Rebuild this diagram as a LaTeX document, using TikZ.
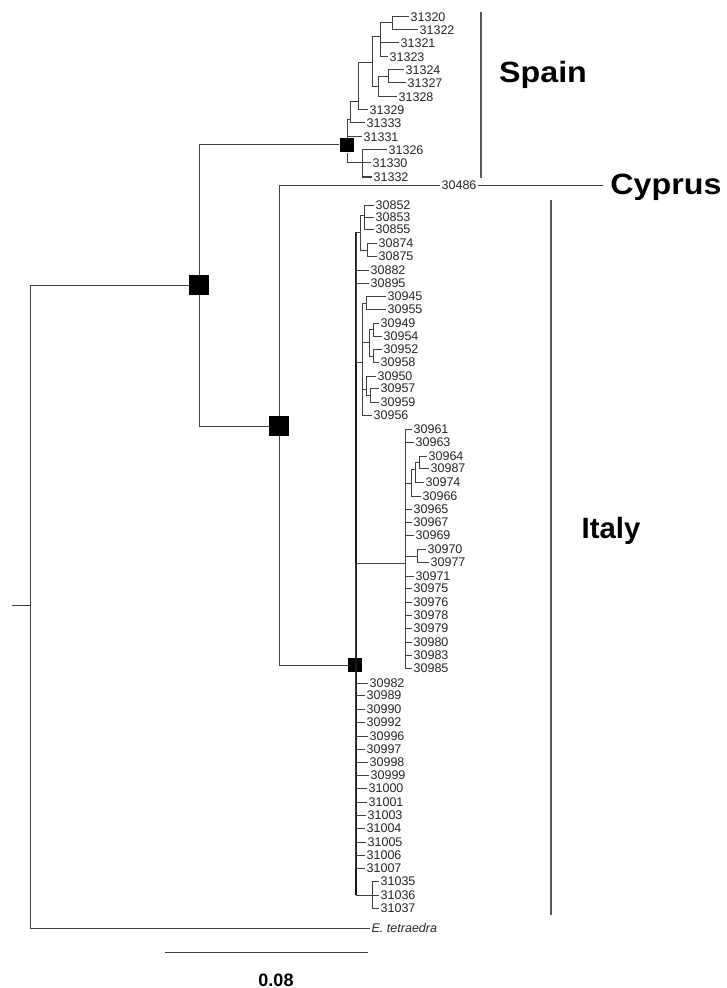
\documentclass[tikz,border=0pt]{standalone}
\usepackage{fontspec}
\setmainfont{Liberation Sans}
\begin{document}
\begin{tikzpicture}[x=0.75pt,y=-0.75pt,
  br/.style={draw=black!75,line width=0.75pt},
  trunk/.style={draw=black!90,line width=1.5pt},
  tip/.style={anchor=west,inner xsep=1pt,inner ysep=0pt,text=black!85,font=\fontsize{9.4}{11}\selectfont},
  bigsq/.style={fill=black,draw=none,minimum size=15pt,inner sep=0pt},
  smsq/.style={fill=black,draw=none,minimum size=10.5pt,inner sep=0pt},
  region/.style={font=\fontsize{22}{26}\selectfont\bfseries,text=black,inner sep=0pt},
  groupbar/.style={draw=black!65,line width=1.1pt}]

\fill[white] (0,0) rectangle (727,988);
\useasboundingbox (0,0) rectangle (727,988);

% ---- root and outgroup ----
\coordinate (rootstub) at (12,605);
\coordinate (root) at (30,605);
\draw[br] (rootstub) -- (root);
\node[tip,font=\fontsize{9.4}{11}\selectfont\itshape] (Etet) at (370,928) {E. tetraedra};
\draw[br] (root) |- (Etet);

% ---- backbone nodes ----
\node[bigsq] (A) at (199,285) {};
\node[smsq,minimum size=11pt] (S0) at (347,145) {};
\node[bigsq] (B) at (279,426) {};
\node[smsq] (C) at (355,665) {};
\draw[br] (root) |- (A);
\draw[br] (A) |- (S0);
\draw[br] (A) |- (B);
\draw[br] (B) |- (C);

% ---- Cyprus ----
\node[tip] (t30486) at (440,185) {30486};
\node[region,anchor=west,xscale=1.1,transform shape] (cyprus) at (610,187) {Cyprus};
\coordinate (cyL) at (603,185);
\draw[br] (B) |- (t30486);
\draw[br] (t30486) -- (cyL);

% ---- Spain clade ----
\coordinate (S2) at (350,120);
\coordinate (S3) at (358,102);
\coordinate (S4) at (372,63);
\coordinate (S5) at (362,163);
\coordinate (S6) at (380,37);
\coordinate (S7) at (378,87);
\coordinate (S8) at (392,23);
\coordinate (S9) at (388,77);
\node[tip] (t31320) at (409,17) {31320};
\node[tip] (t31322) at (418,30) {31322};
\node[tip] (t31321) at (399,43) {31321};
\node[tip] (t31323) at (388,57) {31323};
\node[tip] (t31324) at (404,70) {31324};
\node[tip] (t31327) at (406,83) {31327};
\node[tip] (t31328) at (397,97) {31328};
\node[tip] (t31329) at (368,110) {31329};
\node[tip] (t31333) at (365,123) {31333};
\node[tip] (t31331) at (362,137) {31331};
\node[tip] (t31326) at (387,150) {31326};
\node[tip] (t31330) at (371,163) {31330};
\node[tip] (t31332) at (372,177) {31332};
\draw[br] (S0) |- (S2);
\draw[br] (S0) |- (t31331);
\draw[br] (S0) |- (S5);
\draw[br] (S2) |- (S3);
\draw[br] (S2) |- (t31333);
\draw[br] (S3) |- (S4);
\draw[br] (S3) |- (t31329);
\draw[br] (S4) |- (S6);
\draw[br] (S4) |- (S7);
\draw[br] (S6) |- (S8);
\draw[br] (S6) |- (t31321);
\draw[br] (S6) |- (t31323);
\draw[br] (S8) |- (t31320);
\draw[br] (S8) |- (t31322);
\draw[br] (S7) |- (S9);
\draw[br] (S7) |- (t31328);
\draw[br] (S9) |- (t31324);
\draw[br] (S9) |- (t31327);
\draw[br] (S5) |- (t31326);
\draw[br] (S5) |- (t31330);
\draw[br] (S5) |- (t31332);

% ---- Italy clade: trunk ----
\coordinate (itop) at (356,232);
\coordinate (ibot) at (356,895);
\draw[trunk] (itop) -- (ibot);

% upper groups
\coordinate (T1) at (360,232);
\coordinate (T2) at (364,215);
\coordinate (T3) at (367,250);
\node[tip] (t30852) at (374,205) {30852};
\node[tip] (t30853) at (374,217) {30853};
\node[tip] (t30855) at (374,229) {30855};
\node[tip] (t30874) at (377,243) {30874};
\node[tip] (t30875) at (377,256) {30875};
\node[tip] (t30882) at (369,270) {30882};
\node[tip] (t30895) at (369,283) {30895};
\draw[br] (itop) -- (T1);
\draw[br] (T1) |- (T2);
\draw[br] (T1) |- (T3);
\draw[br] (T2) |- (t30852);
\draw[br] (T2) |- (t30853);
\draw[br] (T2) |- (t30855);
\draw[br] (T3) |- (t30874);
\draw[br] (T3) |- (t30875);
\draw[br] (itop) |- (t30882);
\draw[br] (itop) |- (t30895);

\coordinate (Q1) at (362,362);
\coordinate (Q2) at (366,303);
\coordinate (Q3) at (369,342);
\coordinate (Q4) at (366,389);
\coordinate (Q5) at (373,329);
\coordinate (Q6) at (373,356);
\coordinate (Q7) at (370,395);
\node[tip] (t30945) at (386,296) {30945};
\node[tip] (t30955) at (386,309) {30955};
\node[tip] (t30949) at (379,323) {30949};
\node[tip] (t30954) at (382,336) {30954};
\node[tip] (t30952) at (382,349) {30952};
\node[tip] (t30958) at (379,362) {30958};
\node[tip] (t30950) at (376,376) {30950};
\node[tip] (t30957) at (379,388) {30957};
\node[tip] (t30959) at (379,402) {30959};
\node[tip] (t30956) at (372,415) {30956};
\draw[br] (itop) |- (Q1);
\draw[br] (Q1) |- (Q2);
\draw[br] (Q1) |- (Q3);
\draw[br] (Q1) |- (Q4);
\draw[br] (Q1) |- (t30956);
\draw[br] (Q2) |- (t30945);
\draw[br] (Q2) |- (t30955);
\draw[br] (Q3) |- (Q5);
\draw[br] (Q3) |- (Q6);
\draw[br] (Q5) |- (t30949);
\draw[br] (Q5) |- (t30954);
\draw[br] (Q6) |- (t30952);
\draw[br] (Q6) |- (t30958);
\draw[br] (Q4) |- (t30950);
\draw[br] (Q4) |- (Q7);
\draw[br] (Q7) |- (t30957);
\draw[br] (Q7) |- (t30959);

% middle group
\coordinate (D) at (405,563);
\coordinate (I1) at (411,483);
\coordinate (I2) at (415,469);
\coordinate (I3) at (419,462);
\coordinate (J) at (417,556);
\node[tip] (t30961) at (412,429) {30961};
\node[tip] (t30963) at (414,442) {30963};
\node[tip] (t30964) at (427,456) {30964};
\node[tip] (t30987) at (429,468) {30987};
\node[tip] (t30974) at (424,482) {30974};
\node[tip] (t30966) at (421,496) {30966};
\node[tip] (t30965) at (412,509) {30965};
\node[tip] (t30967) at (412,522) {30967};
\node[tip] (t30969) at (414,535) {30969};
\node[tip] (t30970) at (426,549) {30970};
\node[tip] (t30977) at (429,562) {30977};
\node[tip] (t30971) at (414,576) {30971};
\node[tip] (t30975) at (412,588) {30975};
\node[tip] (t30976) at (412,602) {30976};
\node[tip] (t30978) at (412,615) {30978};
\node[tip] (t30979) at (412,628) {30979};
\node[tip] (t30980) at (412,642) {30980};
\node[tip] (t30983) at (412,655) {30983};
\node[tip] (t30985) at (412,668) {30985};
\draw[br] (C) |- (D);
\foreach \t in {30961,30963,30965,30967,30969,30971,30975,30976,30978,30979,30980,30983,30985}
  \draw[br] (D) |- (t\t);
\draw[br] (D) |- (I1);
\draw[br] (D) |- (J);
\draw[br] (I1) |- (I2);
\draw[br] (I1) |- (t30966);
\draw[br] (I2) |- (I3);
\draw[br] (I2) |- (t30974);
\draw[br] (I3) |- (t30964);
\draw[br] (I3) |- (t30987);
\draw[br] (J) |- (t30970);
\draw[br] (J) |- (t30977);

% lower group
\node[tip] (t30982) at (368,683) {30982};
\node[tip] (t30989) at (365,695) {30989};
\node[tip] (t30990) at (365,709) {30990};
\node[tip] (t30992) at (365,722) {30992};
\node[tip] (t30996) at (368,736) {30996};
\node[tip] (t30997) at (365,749) {30997};
\node[tip] (t30998) at (368,762) {30998};
\node[tip] (t30999) at (369,775) {30999};
\node[tip] (t31000) at (367,788) {31000};
\node[tip] (t31001) at (367,802) {31001};
\node[tip] (t31003) at (366,815) {31003};
\node[tip] (t31004) at (365,828) {31004};
\node[tip] (t31005) at (366,842) {31005};
\node[tip] (t31006) at (365,855) {31006};
\node[tip] (t31007) at (365,868) {31007};
\foreach \t in {30982,30989,30990,30992,30996,30997,30998,30999,31000,31001,31003,31004,31005,31006,31007}
  \draw[br] (C) |- (t\t);
\coordinate (K) at (372,895);
\node[tip] (t31035) at (379,881) {31035};
\node[tip] (t31036) at (379,895) {31036};
\node[tip] (t31037) at (379,908) {31037};
\draw[br] (ibot) -- (K);
\draw[br] (K) |- (t31035);
\draw[br] (K) |- (t31036);
\draw[br] (K) |- (t31037);

% ---- group bars and names ----
\coordinate (spT) at (481,12);
\coordinate (spB) at (481,178);
\draw[groupbar] (spT) -- (spB);
\node[region,xscale=1.1,transform shape] (spain) at (543,75) {Spain};
\coordinate (itT) at (551,200);
\coordinate (itB) at (551,915);
\draw[groupbar] (itT) -- (itB);
\node[region] (italy) at (611,531) {Italy};

% ---- scale bar ----
\coordinate (scL) at (165,952);
\coordinate (scR) at (368,952);
\draw[br] (scL) -- (scR);
\node[font=\fontsize{13.5}{16}\selectfont\bfseries] (scale) at (276,980) {0.08};
\end{tikzpicture}
\end{document}
